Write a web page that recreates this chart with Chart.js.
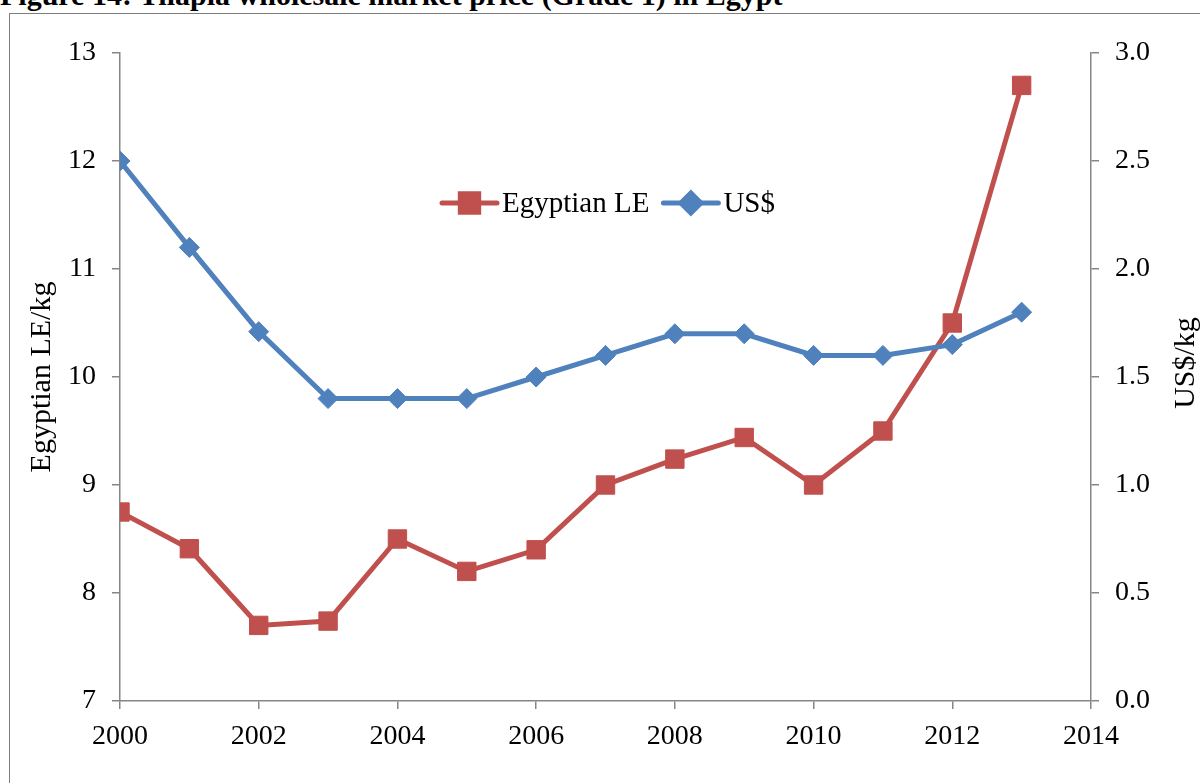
<!DOCTYPE html>
<html>
<head>
<meta charset="utf-8">
<script src="https://cdn.jsdelivr.net/npm/chart.js@4/dist/chart.umd.min.js"></script>
<style>
  html, body { margin: 0; padding: 0; background: #fff; overflow: hidden; }
  #wrap { position: relative; width: 1200px; height: 783px; }
  #title {
    position: absolute; left: 0; top: -20px; margin: 0;
    font: bold 30px/30px "Liberation Serif", "Times New Roman", serif; color: #000;
    white-space: nowrap;
  }
  #frame {
    position: absolute; left: 9px; top: 13px; width: 1300px; height: 900px;
    border: 1.5px solid #7f7f7f; box-sizing: border-box;
  }
  #c { position: absolute; left: 0; top: 0; }
</style>
</head>
<body>
<div id="wrap">
  <div id="title">Figure 14: Tilapia wholesale market price (Grade 1) in Egypt</div>
  <div id="frame"></div>
  <canvas id="c" width="1200" height="783"></canvas>
</div>
<script>
// Tilapia wholesale price, grade 1
const years = [2000, 2001, 2002, 2003, 2004, 2005, 2006, 2007, 2008, 2009, 2010, 2011, 2012, 2013];
const priceLE = [8.75, 8.41, 7.70, 7.74, 8.50, 8.20, 8.40, 9.00, 9.24, 9.44, 9.00, 9.50, 10.50, 12.70];
const priceUSD = [2.50, 2.10, 1.71, 1.40, 1.40, 1.40, 1.50, 1.60, 1.70, 1.70, 1.60, 1.60, 1.65, 1.80];
const seriesNames = ['Egyptian LE', 'US$'];
const axisTitles = { left: 'Egyptian LE/kg', right: 'US$/kg' };

const RED = '#C0504D';
const BLUE = '#4F81BD';
const AXIS = '#868686';
const FONT = '"Liberation Serif", "Times New Roman", serif';

const toPoints = vals => years.map((yr, i) => ({ x: yr, y: vals[i] }));

// Legend drawn inside the plot, with line + marker swatches
const innerLegend = {
  id: 'innerLegend',
  afterDatasetsDraw(chart) {
    const ctx = chart.ctx;
    const ca = chart.chartArea;
    const y = ca.top + 150;
    let x = ca.left + 322;
    ctx.save();
    ctx.font = '29px ' + FONT;
    ctx.textBaseline = 'middle';
    chart.data.datasets.forEach((ds) => {
      ctx.strokeStyle = ds.borderColor;
      ctx.lineWidth = 5;
      ctx.lineCap = 'round';
      ctx.beginPath();
      ctx.moveTo(x, y);
      ctx.lineTo(x + 55, y);
      ctx.stroke();
      Chart.helpers.drawPoint(ctx, {
        pointStyle: ds.pointStyle, radius: ds.pointRadius, borderWidth: 1
      }, x + 27.5, y);
      ctx.fillStyle = ds.pointBackgroundColor;
      ctx.fill();
      ctx.fillStyle = '#000';
      ctx.fillText(ds.label, x + 60, y + 1);
      x += 60 + ctx.measureText(ds.label).width + 14;
    });
    ctx.restore();
  }
};

// Both axis titles read bottom-to-top
const axisTitlePlugin = {
  id: 'axisTitlePlugin',
  afterDraw(chart) {
    const ctx = chart.ctx;
    const ca = chart.chartArea;
    const mid = (ca.top + ca.bottom) / 2;
    const draw = (text, x, y) => {
      ctx.save();
      ctx.translate(x, y);
      ctx.rotate(-Math.PI / 2);
      ctx.font = '30px ' + FONT;
      ctx.fillStyle = '#000';
      ctx.textAlign = 'center';
      ctx.textBaseline = 'middle';
      ctx.fillText(text, 0, 0);
      ctx.restore();
    };
    draw(axisTitles.left, ca.left - 78, mid);
    draw(axisTitles.right, ca.right + 95, mid - 14);
  }
};

const tickFont = { family: FONT, size: 28 };

new Chart(document.getElementById('c'), {
  type: 'line',
  data: {
    datasets: [
      {
        label: seriesNames[0], data: toPoints(priceLE), yAxisID: 'yL',
        borderColor: RED, backgroundColor: RED, pointBackgroundColor: RED, pointBorderColor: RED,
        borderWidth: 5, pointStyle: 'rect', pointRadius: 13, pointBorderWidth: 1,
        tension: 0, order: 2
      },
      {
        label: seriesNames[1], data: toPoints(priceUSD), yAxisID: 'yR',
        borderColor: BLUE, backgroundColor: BLUE, pointBackgroundColor: BLUE, pointBorderColor: BLUE,
        borderWidth: 5, pointStyle: 'rectRot', pointRadius: 10, pointBorderWidth: 1,
        tension: 0, order: 1
      }
    ]
  },
  options: {
    responsive: false,
    animation: false,
    layout: { padding: { top: 53, left: 0, right: 0, bottom: 0 } },
    plugins: { legend: { display: false }, tooltip: { enabled: false } },
    scales: {
      x: {
        type: 'linear', min: 2000, max: 2014,
        afterFit: s => { s.height = 82; },
        ticks: { stepSize: 2, color: '#000', font: tickFont, padding: 11, maxRotation: 0,
                 callback: v => String(v) },
        grid: { drawOnChartArea: false, tickLength: 8, color: AXIS, lineWidth: 1.5 },
        border: { color: AXIS, width: 1.5 }
      },
      yL: {
        type: 'linear', position: 'left', min: 7, max: 13,
        afterFit: s => { s.width = 120; },
        ticks: { stepSize: 1, color: '#000', font: tickFont, padding: 16 },
        grid: { drawOnChartArea: false, tickLength: 8, color: AXIS, lineWidth: 1.5 },
        border: { color: AXIS, width: 1.5 }
      },
      yR: {
        type: 'linear', position: 'right', min: 0, max: 3,
        afterFit: s => { s.width = 109; },
        ticks: { stepSize: 0.5, color: '#000', font: tickFont, padding: 16,
                 callback: v => v.toFixed(1) },
        grid: { drawOnChartArea: false, tickLength: 8, color: AXIS, lineWidth: 1.5 },
        border: { color: AXIS, width: 1.5 }
      }
    }
  },
  plugins: [innerLegend, axisTitlePlugin]
});
</script>
</body>
</html>
